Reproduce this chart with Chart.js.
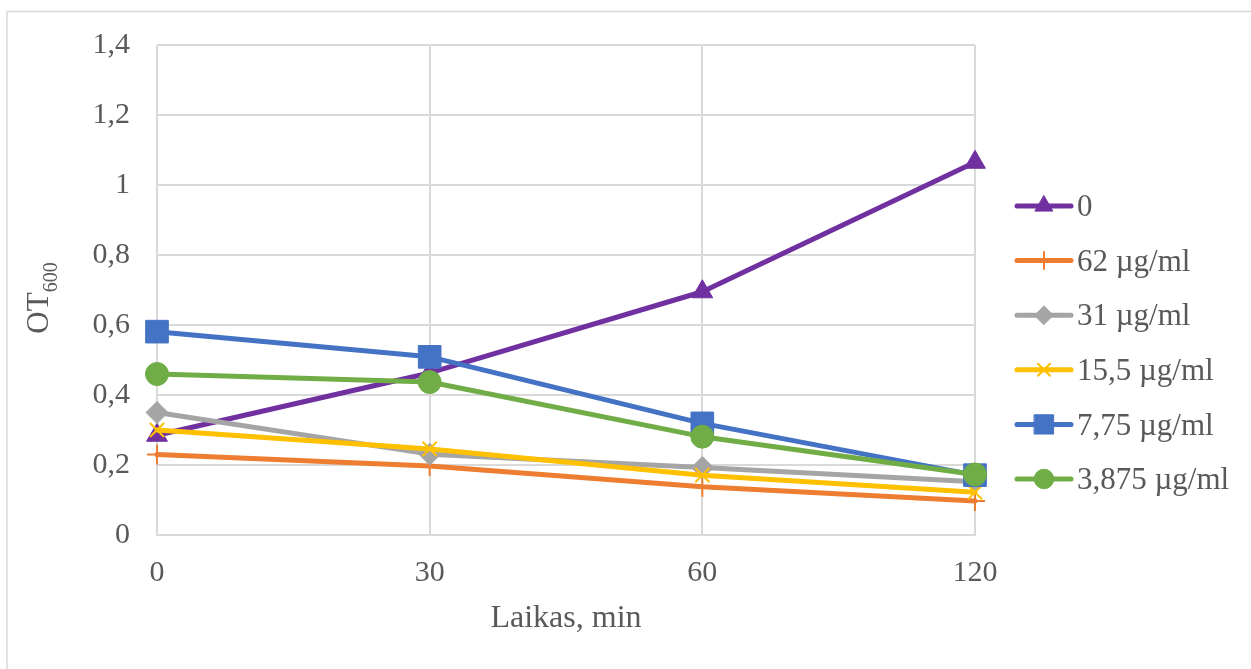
<!DOCTYPE html>
<html>
<head>
<meta charset="utf-8">
<script src="https://cdn.jsdelivr.net/npm/chart.js@4/dist/chart.umd.min.js"></script>
<style>
  html, body { margin: 0; padding: 0; background: #ffffff; }
  #wrap { width: 1251px; height: 669px; }
</style>
</head>
<body>
<div id="wrap"><canvas id="c" width="1251" height="669"></canvas></div>
<script>
// Sampling times (minutes) and optical density readings per concentration
const times = ['0', '30', '60', '120'];
const seriesNames = ['0', '62 µg/ml', '31 µg/ml', '15,5 µg/ml', '7,75 µg/ml', '3,875 µg/ml'];
const od_0      = [0.285, 0.463, 0.695, 1.065];
const od_62     = [0.230, 0.197, 0.138, 0.097];
const od_31     = [0.350, 0.231, 0.193, 0.152];
const od_15_5   = [0.300, 0.246, 0.171, 0.122];
const od_7_75   = [0.581, 0.509, 0.319, 0.171];
const od_3_875  = [0.460, 0.437, 0.281, 0.173];
const yTickLabels = ['0', '0,2', '0,4', '0,6', '0,8', '1', '1,2', '1,4'];
const xTitle = 'Laikas, min';
const yTitleMain = 'OT';
const yTitleSub = '600';

const FONT = "'Liberation Serif', 'Times New Roman', serif";
const TEXT = '#595959';
const GRID = '#d9d9d9';

const styles = [
  { color: '#7030A0', point: 'triangle', r: 12,  bw: 1 },
  { color: '#ED7D31', point: 'cross',    r: 10,  bw: 2 },
  { color: '#A5A5A5', point: 'rectRot',  r: 11,  bw: 1 },
  { color: '#FFC000', point: 'crossRot', r: 10,  bw: 2 },
  { color: '#4472C4', point: 'rect',     r: 16,  bw: 1 },
  { color: '#70AD47', point: 'circle',   r: 11.5, bw: 1 }
];
const values = [od_0, od_62, od_31, od_15_5, od_7_75, od_3_875];

const datasets = values.map((vals, i) => ({
  label: seriesNames[i],
  data: vals,
  borderColor: styles[i].color,
  backgroundColor: styles[i].color,
  borderWidth: 5,
  borderCapStyle: 'round',
  borderJoinStyle: 'round',
  pointStyle: styles[i].point,
  pointRadius: styles[i].r,
  pointHoverRadius: styles[i].r,
  pointBorderWidth: styles[i].bw,
  pointBorderColor: styles[i].color,
  pointBackgroundColor: styles[i].color,
  tension: 0,
  order: values.length - i
}));

// Outer frame of the chart object
const framePlugin = {
  id: 'frame',
  beforeDraw(chart) {
    const ctx = chart.ctx;
    ctx.save();
    ctx.fillStyle = '#ffffff';
    ctx.fillRect(0, 0, chart.width, chart.height);
    ctx.strokeStyle = GRID;
    ctx.lineWidth = 1.5;
    ctx.strokeRect(7, 11.5, chart.width + 20, chart.height + 20);
    ctx.restore();
  }
};

// Vertical axis title with subscript
const yTitlePlugin = {
  id: 'yTitle',
  afterDraw(chart) {
    const ctx = chart.ctx;
    const area = chart.chartArea;
    ctx.save();
    const mainFont = '31px ' + FONT;
    const subFont = '20px ' + FONT;
    ctx.font = mainFont;
    const wMain = ctx.measureText(yTitleMain).width;
    ctx.font = subFont;
    const wSub = ctx.measureText(yTitleSub).width;
    const total = wMain + wSub;
    const cy = (area.top + area.bottom) / 2 + 8;
    ctx.translate(48, cy);
    ctx.rotate(-Math.PI / 2);
    ctx.fillStyle = TEXT;
    ctx.textBaseline = 'alphabetic';
    ctx.textAlign = 'left';
    ctx.font = mainFont;
    ctx.fillText(yTitleMain, -total / 2, 0);
    ctx.font = subFont;
    ctx.fillText(yTitleSub, -total / 2 + wMain, 9);
    ctx.restore();
  }
};

// Legend entries: line sample with marker, then the series name
const legendPlugin = {
  id: 'sideLegend',
  afterDraw(chart) {
    const ctx = chart.ctx;
    const x0 = 1017, x1 = 1071, tx = 1077;
    const yStart = 206, step = 54.6;
    ctx.save();
    chart.data.datasets.forEach((ds, i) => {
      const y = yStart + i * step;
      ctx.strokeStyle = ds.borderColor;
      ctx.lineWidth = 5;
      ctx.lineCap = 'round';
      ctx.beginPath();
      ctx.moveTo(x0, y);
      ctx.lineTo(x1, y);
      ctx.stroke();
      ctx.fillStyle = ds.pointBackgroundColor;
      ctx.strokeStyle = ds.pointBorderColor;
      ctx.lineWidth = ds.pointBorderWidth;
      Chart.helpers.drawPoint(ctx, {
        pointStyle: ds.pointStyle,
        radius: ds.pointRadius * 0.85,
        rotation: 0,
        borderWidth: ds.pointBorderWidth
      }, (x0 + x1) / 2, y);
      ctx.fillStyle = TEXT;
      ctx.font = '31px ' + FONT;
      ctx.textBaseline = 'middle';
      ctx.textAlign = 'left';
      ctx.fillText(ds.label, tx, y + 2);
    });
    ctx.restore();
  }
};

new Chart(document.getElementById('c'), {
  type: 'line',
  data: { labels: times, datasets: datasets },
  options: {
    responsive: false,
    animation: false,
    events: [],
    layout: { padding: { left: 7, right: 276, top: 44, bottom: 0 } },
    plugins: {
      legend: { display: false },
      tooltip: { enabled: false },
      title: { display: false }
    },
    scales: {
      x: {
        type: 'category',
        offset: false,
        grid: { color: GRID, lineWidth: 2, drawTicks: false },
        border: { color: GRID, width: 2 },
        ticks: {
          color: TEXT,
          font: { family: FONT, size: 30 },
          padding: 20,
          maxRotation: 0,
          autoSkip: false
        },
        title: {
          display: true,
          text: xTitle,
          color: TEXT,
          font: { family: FONT, size: 32 },
          padding: { top: 0, bottom: 31 }
        },
        afterFit(scale) { scale.height = 134; }
      },
      y: {
        min: 0,
        max: 1.4,
        grid: { color: GRID, lineWidth: 2, drawTicks: false },
        border: { display: false },
        ticks: {
          stepSize: 0.2,
          color: TEXT,
          font: { family: FONT, size: 30 },
          padding: 27,
          callback: (v, i) => yTickLabels[i]
        },
        afterFit(scale) { scale.width = 150; }
      }
    }
  },
  plugins: [framePlugin, yTitlePlugin, legendPlugin]
});
</script>
</body>
</html>
